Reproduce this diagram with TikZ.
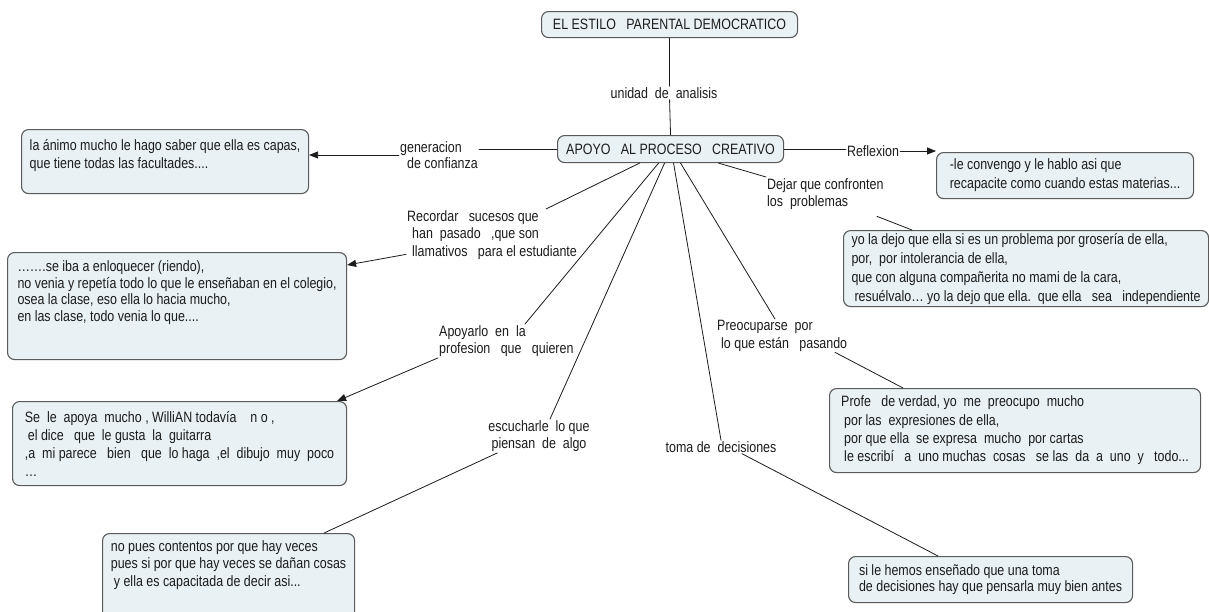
\documentclass[tikz,border=0pt]{standalone}
\usepackage{fontspec}
\setmainfont{Liberation Sans}[FakeStretch=0.83]
\usetikzlibrary{arrows.meta}
\definecolor{cajafondo}{HTML}{E9F1F4}
\definecolor{cajaborde}{HTML}{5A5A5A}
\definecolor{tinta}{HTML}{1C1C1C}
\newcommand\renglon[1]{\fontsize{15}{#1}\selectfont}

\begin{document}
\begin{tikzpicture}[x=1pt, y=-1pt, line join=round, line cap=round, font=\renglon{17.5}, text=tinta, >={Triangle[length=9pt, width=7pt]}]
	\tikzset{
		caja/.style 2 args={draw=cajaborde, fill=cajafondo, line width=1.1pt, rounded corners=7pt, anchor=north west, align=left, inner sep=2pt, minimum width=#1, minimum height=#2},
		frase/.style={align=left, inner sep=1pt},
		enlace/.style={draw=tinta, line width=0.8pt}
	}
	\path[use as bounding box, fill=white] (0,0) rectangle (1209,611);
	% centro del mapa
	\node[caja={256pt}{26pt}] (estilo) at (541,11) {EL ESTILO~~~PARENTAL DEMOCRATICO};
	\node[frase] (unidad) at (664,93) {unidad~~de~~analisis};
	\node[caja={226pt}{27pt}] (apoyo) at (557,135) {APOYO~~~AL PROCESO~~~CREATIVO};
	% lado izquierdo
	\node[frase, anchor=west, font=\renglon{16}] (gen) at (399,155) {generacion\\\hspace*{7pt}de confianza};
	\node[caja={287pt}{64pt}] (confianza) at (21,129) {la ánimo mucho le hago saber que ella es capas,\\que tiene todas las facultades....\\[-8pt]\strut};
	\node[frase, anchor=north west] (recordar) at (406,209) {Recordar~~~sucesos que\\\hspace*{5pt}han~~pasado~~~,que son\\\hspace*{5pt}llamativos~~~para el estudiante};
	\node[caja={339pt}{107pt}, font=\renglon{16.5}] (sucesos) at (7,252) {…….se iba a enloquecer (riendo),\\no venia y repetía todo lo que le enseñaban en el colegio,\\osea la clase, eso ella lo hacia mucho,\\en las clase, todo venia lo que....\\\strut\\[-8pt]\strut};
	\node[frase, anchor=north west] (apoyarlo) at (438,324) {Apoyarlo~~en~~la\\profesion~~~que~~~quieren};
	\node[caja={334pt}{84pt}, font=\renglon{18}] (guitarra) at (12,401) {Se~~le~~apoya~~mucho , WilliAN todavía~~~~n o ,\\\hspace*{3pt}el dice~~~que~~le gusta~~la~~guitarra\\,a~~mi parece~~~bien~~~que~~lo haga~~,el~~dibujo~~muy~~poco\\…};
	\node[frase, align=center] (escuchar) at (539,436) {escucharle~~lo que\\piensan~~de~~algo};
	\node[caja={252pt}{100pt}] (contentos) at (102,533) {no pues contentos por que hay veces\\pues si por que hay veces se dañan cosas\\\hspace*{3pt}y ella es capacitada de decir asi...\\\strut\\\strut};
	% lado derecho
	\node[frase] (refl) at (873,151) {Reflexion};
	\node[caja={257pt}{46pt}, font=\renglon{19}] (reflexion) at (936,152) {-le convengo y le hablo asi que\\recapacite como cuando estas materias...};
	\node[frase, anchor=north west, font=\renglon{17}] (dejar) at (766,177) {Dejar que confronten\\los~~problemas};
	\node[caja={365pt}{76pt}, font=\renglon{19}] (problemas) at (843,230) {yo la dejo que ella si es un problema por grosería de ella,\\por,~~por intolerancia de ella,\\que con alguna compañerita no mami de la cara,\\\hspace*{3pt}resuélvalo… yo la dejo que ella.~~que ella~~~sea~~~independiente};
	\node[frase, anchor=north west] (preoc) at (716,319) {Preocuparse~~por\\\hspace*{4pt}lo que están~~~pasando};
	\node[caja={371pt}{84pt}, font=\renglon{18.3}] (cartas) at (829,388) {Profe~~~de verdad, yo~~me~~preocupo~~mucho\\\hspace*{3pt}por las~~expresiones de ella,\\\hspace*{3pt}por que ella~~se expresa~~mucho~~por cartas\\\hspace*{3pt}le escribí~~~a~~uno muchas~~cosas~~~se las~~da~~a~~uno~~y~~~todo...};
	\node[frase] (toma) at (721,447) {toma de~~decisiones};
	\node[caja={284pt}{46pt}, font=\renglon{16}] (decisiones) at (848,556) {si le hemos enseñado que una toma\\de decisiones hay que pensarla muy bien antes};
	% conectores
	\draw[enlace] (estilo.south) -- (estilo.south |- unidad.north);
	\draw[enlace] (estilo.south |- unidad.south) -- (apoyo.north);
	\draw[enlace] (apoyo.west) -- (apoyo.west -| gen.east);
	\draw[enlace, ->] (gen.west) -- (gen.west -| confianza.east);
	\draw[enlace] (apoyo.east) -- (apoyo.east -| refl.west);
	\draw[enlace, ->] (refl.east) -- (refl.east -| reflexion.west);
	\draw[enlace] ([xshift=-31pt]apoyo.south) -- ([xshift=140pt]recordar.north west);
	\draw[enlace] ([xshift=-12pt]apoyo.south) -- ([xshift=87pt]apoyarlo.north west);
	\draw[enlace] ([xshift=-6pt]apoyo.south) -- ([xshift=11pt]escuchar.north);
	\draw[enlace] ([xshift=3pt]apoyo.south) -- (toma.north);
	\draw[enlace] ([xshift=10pt]apoyo.south) -- ([xshift=59pt]preoc.north west);
	\draw[enlace] ([xshift=48pt]apoyo.south) -- (dejar.north west);
	\draw[enlace] ([xshift=111pt, yshift=-6pt]dejar.south west) -- ([xshift=69pt]problemas.north west);
	\draw[enlace, ->] ([yshift=6pt]recordar.south west) -- ([yshift=-13pt]sucesos.north east);
	\draw[enlace, ->] (apoyarlo.south west) -- ([xshift=-10pt]guitarra.north east);
	\draw[enlace] ([xshift=10pt]escuchar.south west) -- ([xshift=-31pt]contentos.north east);
	\draw[enlace] ([xshift=21pt]toma.south) -- ([xshift=90pt]decisiones.north west);
	\draw[enlace] ([xshift=119pt]preoc.south west) -- ([xshift=74pt]cartas.north west);
\end{tikzpicture}
\end{document}
